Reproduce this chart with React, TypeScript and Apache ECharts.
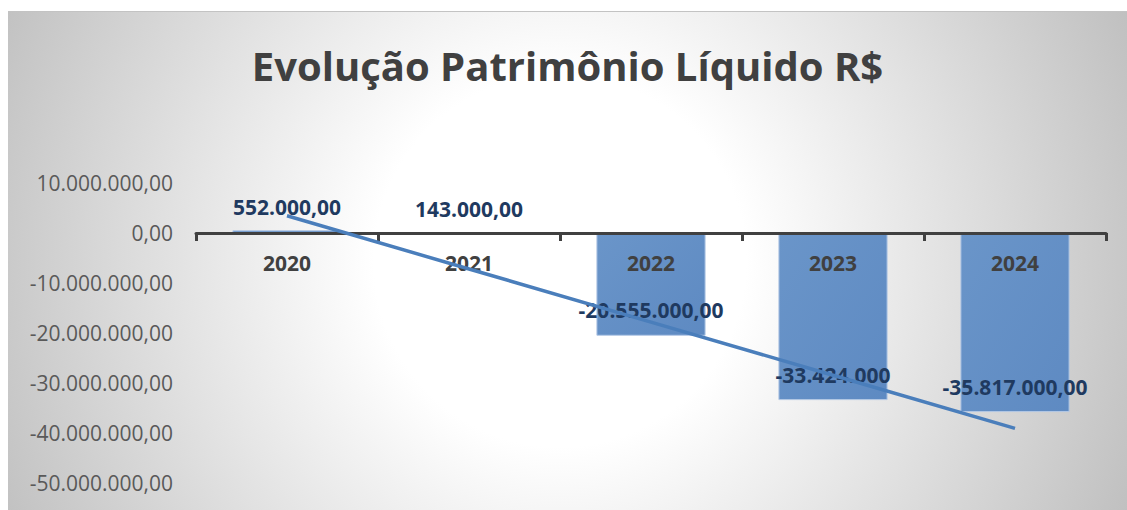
import React, { useEffect, useRef } from "react";
import * as echarts from "echarts";

const title = "Evolução Patrimônio Líquido R$";
const years = ["2020", "2021", "2022", "2023", "2024"];
const values = [552000, 143000, -20555000, -33424000, -35817000];
const dataLabels = ["552.000,00", "143.000,00", "-20.555.000,00", "-33.424.000", "-35.817.000,00"];
const yMin = -50000000;
const yMax = 10000000;
const yStep = 10000000;

function fmtBR(v: number): string {
  const neg = v < 0;
  const abs = Math.abs(v);
  const intPart = Math.floor(abs).toString().replace(/\B(?=(\d{3})+(?!\d))/g, ".");
  return (neg ? "-" : "") + intPart + ",00";
}

// Linear trendline (least squares) over the category index, as a spreadsheet would draw it
function trend(vals: number[]): number[] {
  const n = vals.length;
  const xs = vals.map((_, i) => i + 1);
  const mx = xs.reduce((a, b) => a + b, 0) / n;
  const my = vals.reduce((a, b) => a + b, 0) / n;
  let num = 0;
  let den = 0;
  for (let i = 0; i < n; i++) {
    num += (xs[i] - mx) * (vals[i] - my);
    den += (xs[i] - mx) * (xs[i] - mx);
  }
  const b = num / den;
  const a = my - b * mx;
  return xs.map((x) => a + b * x);
}

const GRID_TOP = 171;
const GRID_H = 300;

export default function App() {
  const ref = useRef<HTMLDivElement>(null);
  useEffect(() => {
    if (!ref.current) return;
    const chart = echarts.init(ref.current, null, { renderer: "svg" });
    const labelColor = "#1f3a60";
    const barData = values.map((v, i) => ({
      value: v,
      label: {
        show: true,
        formatter: dataLabels[i],
        position: v >= 0 ? "top" : "insideBottom",
        distance: v >= 0 ? 13 : 15,
        color: labelColor,
        fontFamily: "Open Sans",
        fontWeight: "bold",
        fontSize: 21,
      },
    }));
    // distance from the grid's bottom edge up to the zero line
    const zeroOffset = (GRID_H * (0 - yMin)) / (yMax - yMin);
    chart.setOption({
      animation: false,
      backgroundColor: "transparent",
      title: {
        text: title,
        left: "center",
        top: 28,
        textStyle: {
          fontFamily: "Open Sans",
          fontWeight: "bold",
          fontSize: 40,
          color: "#404040",
        },
      },
      grid: {
        left: 188,
        right: 21,
        top: GRID_TOP,
        height: GRID_H,
        outerBoundsMode: "none",
        containLabel: false,
      },
      xAxis: {
        type: "category",
        data: years,
        z: 3,
        position: "bottom",
        offset: -zeroOffset,
        axisLine: { onZero: false, lineStyle: { color: "#404040", width: 3 } },
        axisTick: { show: true, length: 8, lineStyle: { color: "#404040", width: 3 } },
        axisLabel: {
          margin: 19,
          color: "#404040",
          fontFamily: "Open Sans",
          fontWeight: "bold",
          fontSize: 21,
        },
        splitLine: { show: false },
      },
      yAxis: {
        type: "value",
        min: yMin,
        max: yMax,
        interval: yStep,
        axisLine: { show: false },
        axisTick: { show: false },
        splitLine: { show: false },
        axisLabel: {
          margin: 23,
          color: "#595959",
          fontFamily: "Open Sans",
          fontSize: 21,
          formatter: (v: number) => fmtBR(v),
        },
      },
      series: [
        {
          type: "bar",
          data: barData,
          z: 2,
          barCategoryGap: "40%",
          itemStyle: {
            color: new echarts.graphic.LinearGradient(0, 0, 1, 1, [
              { offset: 0, color: "#6a95c9" },
              { offset: 1, color: "#5e8ac2" },
            ]),
            borderColor: "#b3c8e5",
            borderWidth: 1,
          },
        },
        {
          type: "line",
          data: trend(values),
          z: 4,
          symbol: "none",
          silent: true,
          lineStyle: { color: "#4a7ebb", width: 3.5 },
        },
      ],
    });
    return () => chart.dispose();
  }, []);
  return (
    <div
      ref={ref}
      style={{
        position: "absolute",
        left: 8,
        top: 11,
        width: 1119,
        height: 499,
        borderTop: "1px solid #c3c3c3",
        boxSizing: "border-box",
        background:
          "radial-gradient(circle 620px at 552px 249px, #ffffff 0%, #ffffff 30%, #c0c0c0 100%)",
      }}
    />
  );
}
